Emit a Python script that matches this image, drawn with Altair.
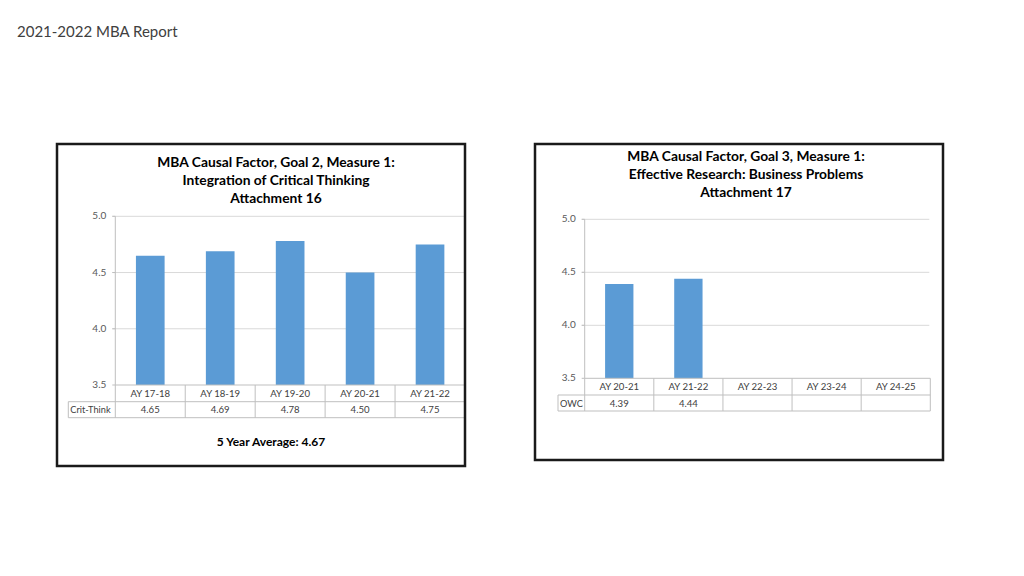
import altair as alt
import pandas as pd

# ---------------- data ----------------
header_text = "2021-2022 MBA Report"

title1 = ["MBA Causal Factor, Goal 2, Measure 1:", "Integration of Critical Thinking", "Attachment 16"]
cats1 = ["AY 17-18", "AY 18-19", "AY 19-20", "AY 20-21", "AY 21-22"]
vals1 = [4.65, 4.69, 4.78, 4.50, 4.75]
row1 = "Crit-Think"
note1 = "5 Year Average: 4.67"

title2 = ["MBA Causal Factor, Goal 3, Measure 1:", "Effective Research: Business Problems", "Attachment 17"]
cats2 = ["AY 20-21", "AY 21-22", "AY 22-23", "AY 23-24", "AY 24-25"]
vals2 = [4.39, 4.44, None, None, None]
row2 = "OWC"

ticks = [3.5, 4.0, 4.5, 5.0]
tick_labels = ["3.5", "4.0", "4.5", "5.0"]

FONT = "Lato"
BAR = "#5b9bd5"
GRID = "#d9d9d9"
TABLE = "#bfbfbf"
TXT = "#404040"

M = 8  # page margin


def P(v):
    return v - M


def panel(cats, vals, row_label, titles, box, plot, title_ys, title_x, row_left, note=None):
    bx0, by0, bx1, by1 = box
    px0, px1, y_top, y_bot, r1, r2 = plot
    xs = alt.Scale(domain=cats, range=[P(px0), P(px1)], paddingInner=0, paddingOuter=0)
    ys = alt.Scale(domain=[3.5, 5.0], range=[P(y_bot), P(y_top)], zero=False, nice=False)

    df = pd.DataFrame({
        "cat": cats,
        "val": vals,
        "lab": [("%.2f" % v) if v is not None else "" for v in vals],
    })
    bars_df = df.dropna(subset=["val"])
    tdf = pd.DataFrame({"t": ticks, "lab": tick_labels})

    X = lambda **kw: alt.X("cat:N", scale=xs, axis=None, **kw)

    grid = alt.Chart(tdf[tdf.t > 3.5]).mark_rule(color=GRID, strokeWidth=1).encode(
        y=alt.Y("t:Q", scale=ys, axis=None),
        x=alt.value(P(px0 - 3)), x2=alt.value(P(px1 - 1)),
    )
    yticks = alt.Chart(tdf).mark_rule(color=TABLE, strokeWidth=1).encode(
        y=alt.Y("t:Q", scale=ys, axis=None),
        x=alt.value(P(px0 - 3)), x2=alt.value(P(px0)),
    )
    yline = alt.Chart(tdf.iloc[[0]]).mark_rule(color=TABLE, strokeWidth=1).encode(
        y=alt.Y("t:Q", scale=ys, axis=None),
        y2=alt.datum(5.0),
        x=alt.value(P(px0)),
    )
    ylabels = alt.Chart(tdf).mark_text(align="right", baseline="middle", font=FONT,
                                      fontSize=10, color="#595959").encode(
        y=alt.Y("t:Q", scale=ys, axis=None),
        x=alt.value(P(px0 - 9)),
        text="lab:N",
    )
    bars = alt.Chart(bars_df).mark_bar(width=alt.RelativeBandSize(0.41), color=BAR).encode(
        x=X(),
        y=alt.Y("val:Q", scale=ys, axis=None),
        y2=alt.datum(3.5),
    )
    # table
    hl = pd.DataFrame({"x0": [P(px0), P(row_left), P(row_left)],
                       "x1": [P(px1), P(px1), P(px1)],
                       "y": [P(y_bot), P(r1), P(r2)]})
    hlines = alt.Chart(hl).mark_rule(color=TABLE, strokeWidth=1).encode(
        x=alt.X("x0:Q", scale=None), x2="x1:Q", y=alt.Y("y:Q", scale=None))
    vlines = alt.Chart(df).mark_rule(color=TABLE, strokeWidth=1).encode(
        x=X(bandPosition=0), y=alt.value(P(y_bot)), y2=alt.value(P(r2)))
    vlast = alt.Chart(df.iloc[[-1]]).mark_rule(color=TABLE, strokeWidth=1).encode(
        x=X(bandPosition=1), y=alt.value(P(y_bot)), y2=alt.value(P(r2)))
    vleft = alt.Chart(df.iloc[[0]]).mark_rule(color=TABLE, strokeWidth=1).encode(
        x=alt.value(P(row_left)), y=alt.value(P(r1)), y2=alt.value(P(r2)))
    catlab = alt.Chart(df).mark_text(font=FONT, fontSize=9.6, color=TXT, baseline="middle").encode(
        x=X(), y=alt.value(P((y_bot + r1) / 2 + 0.5)), text="cat:N")
    vallab = alt.Chart(df).mark_text(font=FONT, fontSize=9.6, color=TXT, baseline="middle").encode(
        x=X(), y=alt.value(P((r1 + r2) / 2 + 0.5)), text="lab:N")
    rowlab = alt.Chart(pd.DataFrame({"t": [row_label]})).mark_text(
        font=FONT, fontSize=9.2, color=TXT, align="left", baseline="middle").encode(
        x=alt.value(P(row_left + 2)), y=alt.value(P((r1 + r2) / 2 + 0.5)), text="t:N")

    tl = pd.DataFrame({"t": titles, "y": [P(v) for v in title_ys]})
    title = alt.Chart(tl).mark_text(font=FONT, fontSize=13.8, fontWeight="bold", color="#000000",
                                    baseline="middle").encode(
        x=alt.value(P(title_x)), y=alt.Y("y:Q", scale=None), text="t:N")

    border = alt.Chart(pd.DataFrame({"a": [0]})).mark_rect(
        filled=False, stroke="#1a1a1a", strokeWidth=2.5).encode(
        x=alt.value(P(bx0)), x2=alt.value(P(bx1)), y=alt.value(P(by0)), y2=alt.value(P(by1)))

    layers = [grid, yticks, yline, ylabels, bars, hlines, vlines, vlast, vleft,
              catlab, vallab, rowlab, title, border]
    if note is not None:
        nt = alt.Chart(pd.DataFrame({"t": [note[0]]})).mark_text(
            font=FONT, fontSize=12, fontWeight="bold", color="#000000", baseline="middle").encode(
            x=alt.value(P(note[1])), y=alt.value(P(note[2])), text="t:N")
        layers.append(nt)
    return alt.layer(*layers)


p1 = panel(cats1, vals1, row1, title1,
           box=(57, 144, 465, 466),
           plot=(115.3, 465, 216.3, 385, 401.7, 417.7),
           title_ys=(163, 181, 199.3), title_x=276, row_left=68.3,
           note=(note1, 271, 442))
p2 = panel(cats2, vals2, row2, title2,
           box=(535, 144, 943, 460),
           plot=(584.7, 930.3, 219.3, 378.3, 395, 411),
           title_ys=(156.7, 174.7, 192.7), title_x=746, row_left=558)

header = alt.Chart(pd.DataFrame({"t": [header_text]})).mark_text(
    font=FONT, fontSize=15, fontWeight="normal", color=TXT, align="left", baseline="middle").encode(
    x=alt.value(P(17)), y=alt.value(P(31.8)), text="t:N")

chart = alt.layer(header, p1, p2).resolve_scale(x="independent", y="independent").properties(
    width=1008, height=560, padding=0,
    autosize=alt.AutoSizeParams(type="none"),
    background="white",
).configure_view(strokeWidth=0)

chart.save("out.html", embed_options={"renderer": "svg", "actions": False})
